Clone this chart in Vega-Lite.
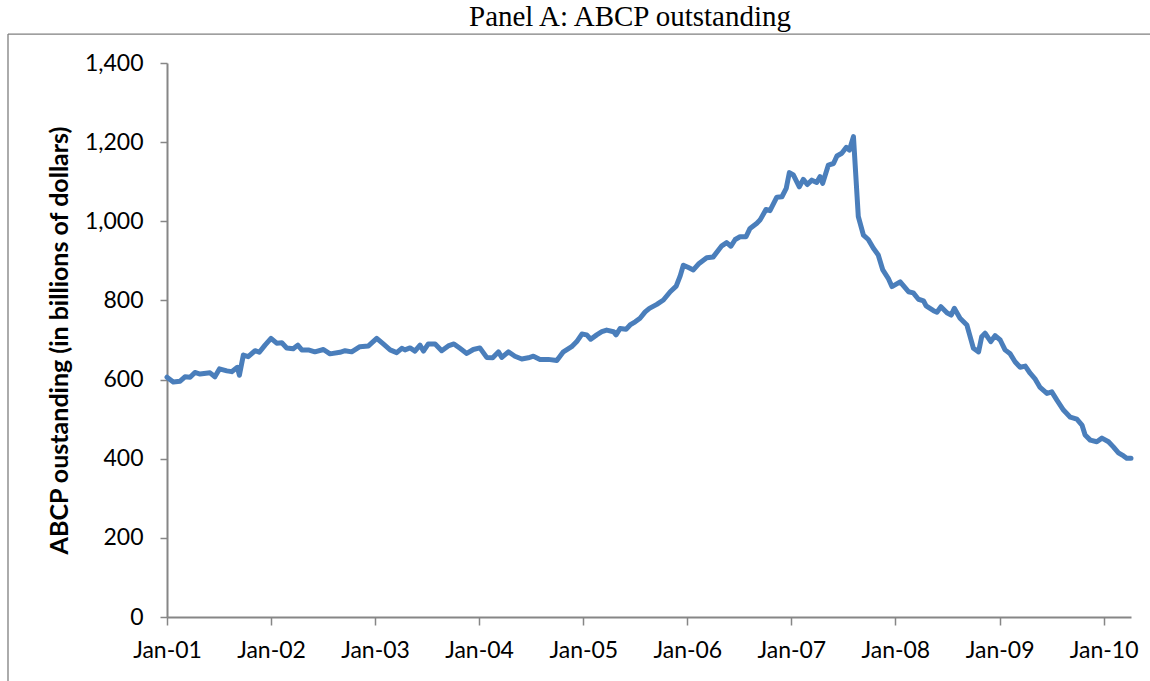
{
  "$schema": "https://vega.github.io/schema/vega-lite/v6.json",
  "width": 964,
  "height": 554,
  "autosize": {"type": "none"},
  "padding": {"left": 167, "top": 63, "right": 19, "bottom": 64},
  "background": "white",
  "config": {"view": {"stroke": null}, "font": "Lato"},
  "title": {"text": "Panel A: ABCP outstanding", "font": "Liberation Serif", "fontSize": 29, "fontWeight": "normal", "color": "black", "anchor": "middle", "frame": "group", "dx": -19, "offset": -22, "baseline": "alphabetic"},
  "layer": [
    {
      "data": {"values": [
        {"date": "2001-01-01", "value": 606}, {"date": "2001-01-23", "value": 594}, {"date": "2001-02-16", "value": 596}, {"date": "2001-03-05", "value": 607}, {"date": "2001-03-23", "value": 606}, {"date": "2001-04-09", "value": 618}, {"date": "2001-04-27", "value": 614}, {"date": "2001-06-01", "value": 617}, {"date": "2001-06-18", "value": 607}, {"date": "2001-07-04", "value": 627}, {"date": "2001-07-30", "value": 622}, {"date": "2001-08-16", "value": 620}, {"date": "2001-09-05", "value": 631}, {"date": "2001-09-12", "value": 611}, {"date": "2001-09-26", "value": 662}, {"date": "2001-10-13", "value": 658}, {"date": "2001-11-06", "value": 673}, {"date": "2001-11-21", "value": 669}, {"date": "2001-12-11", "value": 687},
        {"date": "2002-01-01", "value": 704}, {"date": "2002-01-21", "value": 692}, {"date": "2002-02-08", "value": 693}, {"date": "2002-02-25", "value": 680}, {"date": "2002-03-20", "value": 678}, {"date": "2002-04-05", "value": 687}, {"date": "2002-04-19", "value": 675}, {"date": "2002-05-12", "value": 675}, {"date": "2002-06-04", "value": 670}, {"date": "2002-07-04", "value": 676}, {"date": "2002-07-27", "value": 665}, {"date": "2002-08-31", "value": 669}, {"date": "2002-09-18", "value": 673}, {"date": "2002-10-11", "value": 670}, {"date": "2002-11-09", "value": 683}, {"date": "2002-12-09", "value": 685},
        {"date": "2003-01-07", "value": 704}, {"date": "2003-01-30", "value": 690}, {"date": "2003-02-23", "value": 675}, {"date": "2003-03-18", "value": 668}, {"date": "2003-04-05", "value": 679}, {"date": "2003-04-16", "value": 675}, {"date": "2003-05-04", "value": 680}, {"date": "2003-05-21", "value": 672}, {"date": "2003-06-08", "value": 687}, {"date": "2003-06-20", "value": 672}, {"date": "2003-07-07", "value": 690}, {"date": "2003-07-31", "value": 690}, {"date": "2003-08-23", "value": 673}, {"date": "2003-09-15", "value": 685}, {"date": "2003-10-05", "value": 690}, {"date": "2003-10-26", "value": 679}, {"date": "2003-11-19", "value": 666}, {"date": "2003-12-12", "value": 676},
        {"date": "2004-01-04", "value": 680}, {"date": "2004-01-28", "value": 656}, {"date": "2004-02-18", "value": 655}, {"date": "2004-03-09", "value": 670}, {"date": "2004-03-21", "value": 656}, {"date": "2004-04-13", "value": 670}, {"date": "2004-05-06", "value": 659}, {"date": "2004-05-30", "value": 652}, {"date": "2004-06-22", "value": 655}, {"date": "2004-07-10", "value": 659}, {"date": "2004-08-02", "value": 651}, {"date": "2004-08-31", "value": 651}, {"date": "2004-09-30", "value": 648}, {"date": "2004-10-23", "value": 670}, {"date": "2004-11-21", "value": 683}, {"date": "2004-12-09", "value": 696}, {"date": "2004-12-27", "value": 715},
        {"date": "2005-01-13", "value": 713}, {"date": "2005-01-27", "value": 702}, {"date": "2005-02-17", "value": 713}, {"date": "2005-03-07", "value": 721}, {"date": "2005-03-24", "value": 725}, {"date": "2005-04-17", "value": 721}, {"date": "2005-04-26", "value": 713}, {"date": "2005-05-10", "value": 729}, {"date": "2005-05-31", "value": 727}, {"date": "2005-06-14", "value": 738}, {"date": "2005-07-02", "value": 746}, {"date": "2005-07-19", "value": 755}, {"date": "2005-08-06", "value": 771}, {"date": "2005-08-21", "value": 780}, {"date": "2005-09-16", "value": 790}, {"date": "2005-10-09", "value": 801}, {"date": "2005-11-02", "value": 822}, {"date": "2005-11-23", "value": 836}, {"date": "2005-12-07", "value": 862}, {"date": "2005-12-18", "value": 889},
        {"date": "2006-01-05", "value": 883}, {"date": "2006-01-22", "value": 877}, {"date": "2006-02-09", "value": 892}, {"date": "2006-03-10", "value": 908}, {"date": "2006-04-02", "value": 910}, {"date": "2006-05-02", "value": 938}, {"date": "2006-05-19", "value": 946}, {"date": "2006-06-03", "value": 937}, {"date": "2006-06-18", "value": 954}, {"date": "2006-07-05", "value": 961}, {"date": "2006-07-26", "value": 961}, {"date": "2006-08-09", "value": 982}, {"date": "2006-09-02", "value": 995}, {"date": "2006-09-13", "value": 1003}, {"date": "2006-10-04", "value": 1030}, {"date": "2006-10-18", "value": 1027}, {"date": "2006-11-11", "value": 1061}, {"date": "2006-11-29", "value": 1062}, {"date": "2006-12-14", "value": 1083}, {"date": "2006-12-25", "value": 1123},
        {"date": "2007-01-08", "value": 1117}, {"date": "2007-01-29", "value": 1087}, {"date": "2007-02-12", "value": 1106}, {"date": "2007-02-26", "value": 1093}, {"date": "2007-03-14", "value": 1104}, {"date": "2007-03-31", "value": 1098}, {"date": "2007-04-12", "value": 1113}, {"date": "2007-04-21", "value": 1096}, {"date": "2007-05-11", "value": 1142}, {"date": "2007-05-29", "value": 1146}, {"date": "2007-06-10", "value": 1165}, {"date": "2007-06-27", "value": 1172}, {"date": "2007-07-13", "value": 1187}, {"date": "2007-07-24", "value": 1180}, {"date": "2007-08-07", "value": 1214}, {"date": "2007-08-24", "value": 1012}, {"date": "2007-09-11", "value": 965}, {"date": "2007-09-28", "value": 954}, {"date": "2007-10-16", "value": 932}, {"date": "2007-11-02", "value": 915}, {"date": "2007-11-18", "value": 877}, {"date": "2007-12-07", "value": 856}, {"date": "2007-12-20", "value": 835},
        {"date": "2008-01-18", "value": 847}, {"date": "2008-02-16", "value": 822}, {"date": "2008-03-04", "value": 819}, {"date": "2008-03-22", "value": 803}, {"date": "2008-04-09", "value": 799}, {"date": "2008-04-18", "value": 786}, {"date": "2008-05-14", "value": 774}, {"date": "2008-05-26", "value": 770}, {"date": "2008-06-09", "value": 784}, {"date": "2008-06-30", "value": 769}, {"date": "2008-07-15", "value": 763}, {"date": "2008-07-26", "value": 780}, {"date": "2008-08-15", "value": 755}, {"date": "2008-09-08", "value": 738}, {"date": "2008-09-17", "value": 715}, {"date": "2008-10-01", "value": 679}, {"date": "2008-10-19", "value": 670}, {"date": "2008-10-30", "value": 708}, {"date": "2008-11-11", "value": 717}, {"date": "2008-12-01", "value": 696}, {"date": "2008-12-16", "value": 711},
        {"date": "2009-01-03", "value": 700}, {"date": "2009-01-20", "value": 675}, {"date": "2009-02-07", "value": 665}, {"date": "2009-02-24", "value": 645}, {"date": "2009-03-14", "value": 631}, {"date": "2009-04-01", "value": 634}, {"date": "2009-04-18", "value": 616}, {"date": "2009-05-06", "value": 601}, {"date": "2009-05-23", "value": 580}, {"date": "2009-06-16", "value": 565}, {"date": "2009-07-03", "value": 569}, {"date": "2009-07-21", "value": 548}, {"date": "2009-08-13", "value": 523}, {"date": "2009-09-06", "value": 505}, {"date": "2009-09-29", "value": 500}, {"date": "2009-10-17", "value": 485}, {"date": "2009-10-28", "value": 460}, {"date": "2009-11-15", "value": 447}, {"date": "2009-12-08", "value": 443}, {"date": "2009-12-26", "value": 452},
        {"date": "2010-01-18", "value": 443}, {"date": "2010-02-04", "value": 430}, {"date": "2010-02-22", "value": 415}, {"date": "2010-03-12", "value": 407}, {"date": "2010-03-23", "value": 401}, {"date": "2010-04-07", "value": 401}
      ]},
      "mark": {"type": "line", "color": "#4A7EBB", "strokeWidth": 5, "strokeJoin": "round", "strokeCap": "round"},
      "encoding": {
        "x": {
          "field": "date", "type": "temporal",
          "scale": {"type": "utc", "nice": false, "domain": [{"year": 2001, "month": 1, "date": 1, "utc": true}, {"year": 2010, "month": 4, "date": 7, "utc": true}]},
          "axis": {
            "title": null, "grid": false,
            "labelExpr": "utcFormat(datum.value, '%b-%y')",
            "values": [
              {"year": 2001, "month": 1, "date": 1, "utc": true}, {"year": 2002, "month": 1, "date": 1, "utc": true}, {"year": 2003, "month": 1, "date": 1, "utc": true}, {"year": 2004, "month": 1, "date": 1, "utc": true}, {"year": 2005, "month": 1, "date": 1, "utc": true}, {"year": 2006, "month": 1, "date": 1, "utc": true}, {"year": 2007, "month": 1, "date": 1, "utc": true}, {"year": 2008, "month": 1, "date": 1, "utc": true}, {"year": 2009, "month": 1, "date": 1, "utc": true}, {"year": 2010, "month": 1, "date": 1, "utc": true}
            ],
            "labelFont": "Lato", "labelFontSize": 23, "labelColor": "black", "labelPadding": 14, "labelFlush": false, "labelOverlap": false,
            "tickSize": 8, "tickColor": "#868686", "tickWidth": 1.5, "domainColor": "#868686", "domainWidth": 2
          }
        },
        "y": {
          "field": "value", "type": "quantitative",
          "scale": {"domain": [0, 1400], "nice": false, "zero": true},
          "axis": {
            "title": "ABCP oustanding (in billions of dollars)", "titleFont": "Lato", "titleFontSize": 25, "titleFontWeight": "bold", "titleColor": "black", "titlePadding": 12,
            "grid": false, "values": [0, 200, 400, 600, 800, 1000, 1200, 1400], "format": ",d",
            "labelFont": "Lato", "labelFontSize": 23, "labelColor": "black", "labelPadding": 17, "labelFlush": false, "labelOverlap": false,
            "tickSize": 7, "tickColor": "#868686", "tickWidth": 1.5, "domainColor": "#868686", "domainWidth": 2
          }
        }
      }
    },
    {
      "data": {"values": [{"frame": "top"}]},
      "mark": {"type": "rule", "color": "#7f7f7f", "strokeWidth": 1.3},
      "encoding": {
        "x": {"datum": {"year": 1999, "month": 6, "date": 23, "utc": true}, "type": "temporal"},
        "x2": {"datum": {"year": 2011, "month": 6, "date": 1, "utc": true}},
        "y": {"datum": 1473, "type": "quantitative"}
      }
    },
    {
      "data": {"values": [{"frame": "left"}]},
      "mark": {"type": "rule", "color": "#7f7f7f", "strokeWidth": 1.3},
      "encoding": {
        "x": {"datum": {"year": 1999, "month": 6, "date": 23, "utc": true}, "type": "temporal"},
        "y": {"datum": 1473, "type": "quantitative"},
        "y2": {"datum": -300}
      }
    }
  ]
}
